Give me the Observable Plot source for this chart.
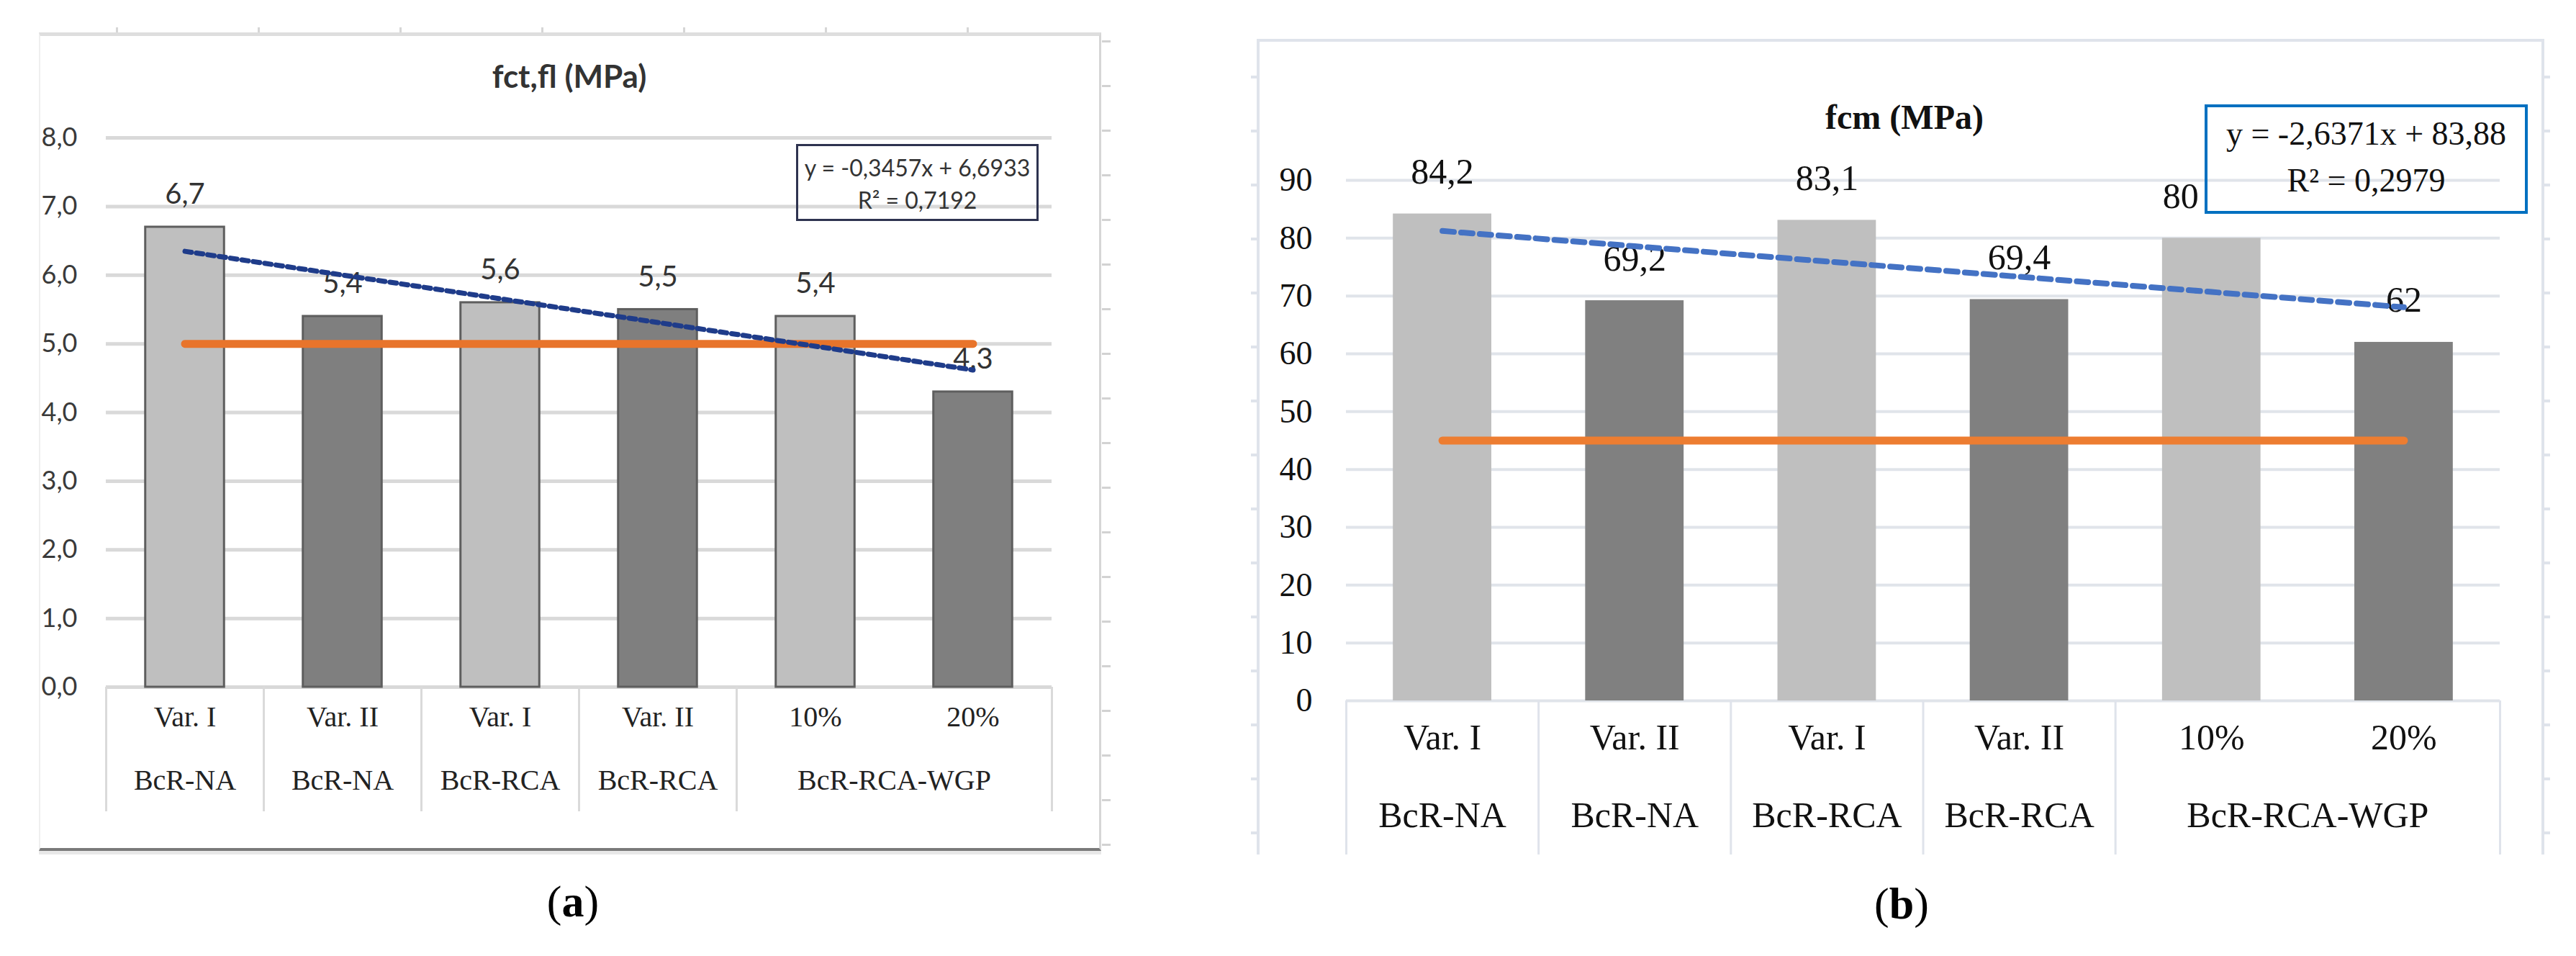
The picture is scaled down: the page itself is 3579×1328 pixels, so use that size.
<!DOCTYPE html>
<html>
<head>
<meta charset="utf-8">
<script src="https://cdn.jsdelivr.net/npm/d3@7"></script>
<script src="https://cdn.jsdelivr.net/npm/@observablehq/plot@0.6"></script>
<style>
  html, body { margin: 0; padding: 0; background: #fff; }
  #root { position: relative; width: 3579px; height: 1328px; overflow: hidden; background: #fff; }
  .abs { position: absolute; }
  .abs svg { overflow: visible; }
  .narrow { font-family: Lato, "Liberation Sans Narrow", sans-serif; }
  .serif { font-family: "Liberation Serif", "Times New Roman", serif; }
</style>
</head>
<body>
<div id="root"></div>
<script>
// ---------------- data ----------------
const categories = ["Var. I", "Var. II", "Var. I", "Var. II", "10%", "20%"];
const groupLabels = ["BcR-NA", "BcR-NA", "BcR-RCA", "BcR-RCA", "BcR-RCA-WGP"];
const groupSizes = [1, 1, 1, 1, 2];
const variants = [1, 2, 1, 2, 1, 2];

const fctfl = [6.7, 5.4, 5.6, 5.5, 5.4, 4.3];
const fctflLabels = ["6,7", "5,4", "5,6", "5,5", "5,4", "4,3"];
const fctflTicks = [0, 1, 2, 3, 4, 5, 6, 7, 8];
const fctflLimit = 5.0;
const fctflTrend = { slope: -0.3457, intercept: 6.6933, r2: "0,7192", eq: "y = -0,3457x + 6,6933" };

const fcm = [84.2, 69.2, 83.1, 69.4, 80, 62];
const fcmLabels = ["84,2", "69,2", "83,1", "69,4", "80", "62"];
const fcmTicks = [0, 10, 20, 30, 40, 50, 60, 70, 80, 90];
const fcmLimit = 45;
const fcmTrend = { slope: -2.6371, intercept: 83.88, r2: "0,2979", eq: "y = -2,6371x + 83,88" };

// ---------------- helpers ----------------
const NARROW = 'Lato, "Liberation Sans Narrow", sans-serif';
const SERIF = '"Liberation Serif", "Times New Roman", serif';
const n = categories.length;
const root = document.getElementById("root");

function rowsOf(values, labels, trend) {
  return categories.map((c, i) => ({
    i, cat: c, v: values[i], label: labels[i], variant: variants[i],
    trend: trend.intercept + trend.slope * (i + 1)
  }));
}
let acc = 0;
const groupCells = groupLabels.map((g, k) => {
  const start = acc; acc += groupSizes[k];
  return { label: g, start, end: acc };
});
const bounds = [0, ...groupCells.map(d => d.end)];

function place(node, left, top) {
  const wrap = document.createElement("div");
  wrap.className = "abs";
  wrap.style.left = left + "px";
  wrap.style.top = top + "px";
  wrap.appendChild(node);
  root.appendChild(wrap);
  return wrap;
}
function box(left, top, width, height, css) {
  const d = document.createElement("div");
  d.className = "abs";
  Object.assign(d.style, { left: left + "px", top: top + "px", width: width + "px", height: height + "px", boxSizing: "border-box" }, css || {});
  root.appendChild(d);
  return d;
}
function label(text, cls, cx, cy, css) {
  const d = document.createElement("div");
  d.className = "abs " + cls;
  d.innerHTML = text;
  Object.assign(d.style, { left: cx + "px", top: cy + "px", transform: "translate(-50%, -50%)", whiteSpace: "nowrap", lineHeight: "1" }, css || {});
  root.appendChild(d);
  return d;
}

// ---------------- panel (a) decorations ----------------
box(54, 45, 1476, 1137, { borderTop: "5px solid #dedede", borderLeft: "2px solid #efefef", borderRight: "3px solid #d6d6d6", borderBottom: "4px solid #7a7a7a", boxShadow: "0 5px 0 #e8e8e8" });
box(1531, 47, 12, 1133, { background: "repeating-linear-gradient(to bottom, transparent 0 9px, #d2d2d2 9px 12px, transparent 12px 62px)" });
box(54, 38, 1474, 7, { background: "repeating-linear-gradient(to right, transparent 0 107px, #d6d6d6 107px 110px, transparent 110px 197px)" });

// ---------------- panel (a) plot ----------------
const rowsA = rowsOf(fctfl, fctflLabels, fctflTrend);
const frameHA = 1200 - 191 - 246;
const plotA = Plot.plot({
  width: 1560, height: 1200,
  marginLeft: 147, marginRight: 99, marginTop: 191, marginBottom: 246,
  x: { domain: [0, n], axis: null },
  y: { domain: [0, 8], axis: null },
  color: { type: "ordinal", domain: [1, 2], range: ["#bfbfbf", "#7f7f7f"] },
  style: { fontFamily: NARROW, background: "transparent", color: "#3a3a3a" },
  marks: [
    Plot.ruleY(fctflTicks, { stroke: "#d9d9d9", strokeWidth: 5 }),
    Plot.axisY({ ticks: fctflTicks, tickSize: 0, tickPadding: 40, tickFormat: d => d.toFixed(1).replace(".", ","), fontSize: 36, fontFamily: NARROW }),
    Plot.ruleX(bounds, { x: d => d, insetTop: frameHA, insetBottom: -173, stroke: "#dadada", strokeWidth: 3 }),
    Plot.rectY(rowsA, { x1: d => d.i + 0.25, x2: d => d.i + 0.75, y: "v", fill: "variant", stroke: "#5e5e5e", strokeWidth: 3 }),
    Plot.text(rowsA, { x: d => d.i + 0.5, y: "v", text: "label", dy: -45, fontSize: 40, fontFamily: NARROW, fill: "#333" }),
    Plot.line(rowsA, { x: d => d.i + 0.5, y: () => fctflLimit, stroke: "#e8742b", strokeWidth: 11 }),
    Plot.line(rowsA, { x: d => d.i + 0.5, y: "trend", stroke: "#1f3c8a", strokeWidth: 7, strokeDasharray: "9,7" }),
    Plot.text(rowsA, { x: d => d.i + 0.5, frameAnchor: "bottom", dy: 54, text: "cat", fontSize: 40, fontFamily: SERIF, fill: "#222" }),
    Plot.text(groupCells, { x: d => (d.start + d.end) / 2, frameAnchor: "bottom", dy: 142, text: "label", fontSize: 40, fontFamily: SERIF, fill: "#222" })
  ]
});
place(plotA, 0, 0);

label("fct,fl (MPa)", "narrow", 791, 105, { fontSize: "44px", fontWeight: "bold", color: "#333" });
const eqA = box(1106, 200, 337, 107, { border: "3px solid #2e3350", textAlign: "center", fontSize: "32px", lineHeight: "45px", paddingTop: "7px", color: "#333" });
eqA.className += " narrow";
eqA.innerHTML = fctflTrend.eq + "<br>R² = " + fctflTrend.r2;
label("(<b>a</b>)", "serif", 796, 1252, { fontSize: "62px", color: "#000" });

// ---------------- panel (b) decorations ----------------
box(1746, 54, 1789, 1133, { borderTop: "4px solid #dfe3eb", borderLeft: "4px solid #dfe3eb", borderRight: "4px solid #dfe3eb" });
box(1738, 54, 8, 1133, { background: "repeating-linear-gradient(to bottom, transparent 0 51px, #dfe3eb 51px 55px, transparent 55px 75px)" });
box(3535, 54, 8, 1133, { background: "repeating-linear-gradient(to bottom, transparent 0 51px, #dfe3eb 51px 55px, transparent 55px 75px)" });

// ---------------- panel (b) plot ----------------
const rowsB = rowsOf(fcm, fcmLabels, fcmTrend);
const frameHB = 1200 - 250 - 227;
const plotB = Plot.plot({
  width: 1860, height: 1200,
  marginLeft: 170, marginRight: 87, marginTop: 250, marginBottom: 227,
  x: { domain: [0, n], axis: null },
  y: { domain: [0, 90], axis: null },
  color: { type: "ordinal", domain: [1, 2], range: ["#bfbfbf", "#808080"] },
  style: { fontFamily: SERIF, background: "transparent", color: "#111" },
  marks: [
    Plot.ruleY(fcmTicks, { stroke: "#e0e4ea", strokeWidth: 4 }),
    Plot.axisY({ ticks: fcmTicks, tickSize: 0, tickPadding: 47, tickFormat: d => String(d), fontSize: 46, fontFamily: SERIF }),
    Plot.ruleX(bounds, { x: d => d, insetTop: frameHB, insetBottom: -214, stroke: "#dfe3eb", strokeWidth: 3 }),
    Plot.rectY(rowsB, { x1: d => d.i + 0.244, x2: d => d.i + 0.756, y: "v", fill: "variant" }),
    Plot.text(rowsB.filter(d => d.i !== 4), { x: d => d.i + 0.5, y: "v", text: "label", dy: -58, fontSize: 50, fontFamily: SERIF, fill: "#111" }),
    Plot.text(rowsB.filter(d => d.i === 4), { x: d => d.i + 0.5, y: "v", text: "label", dy: -58, dx: -43, fontSize: 50, fontFamily: SERIF, fill: "#111" }),
    Plot.line(rowsB, { x: d => d.i + 0.5, y: () => fcmLimit, stroke: "#ed7d31", strokeWidth: 11 }),
    Plot.line(rowsB, { x: d => d.i + 0.5, y: "trend", stroke: "#4472c4", strokeWidth: 8, strokeDasharray: "16,10" }),
    Plot.text(rowsB, { x: d => d.i + 0.5, frameAnchor: "bottom", dy: 67, text: "cat", fontSize: 50, fontFamily: SERIF, fill: "#111" }),
    Plot.text(groupCells, { x: d => (d.start + d.end) / 2, frameAnchor: "bottom", dy: 175, text: "label", fontSize: 50, fontFamily: SERIF, fill: "#111" })
  ]
});
place(plotB, 1700, 0);

label("fcm (MPa)", "serif", 2646, 163, { fontSize: "48px", fontWeight: "bold", color: "#111" });
const eqB = box(3063, 145, 449, 152, { border: "4px solid #0070c0", textAlign: "center", fontSize: "46px", lineHeight: "65px", paddingTop: "4px", color: "#111" });
eqB.className += " serif";
eqB.innerHTML = fcmTrend.eq + "<br>R² = " + fcmTrend.r2;
label("(<b>b</b>)", "serif", 2642, 1255, { fontSize: "62px", color: "#000" });
</script>
</body>
</html>
